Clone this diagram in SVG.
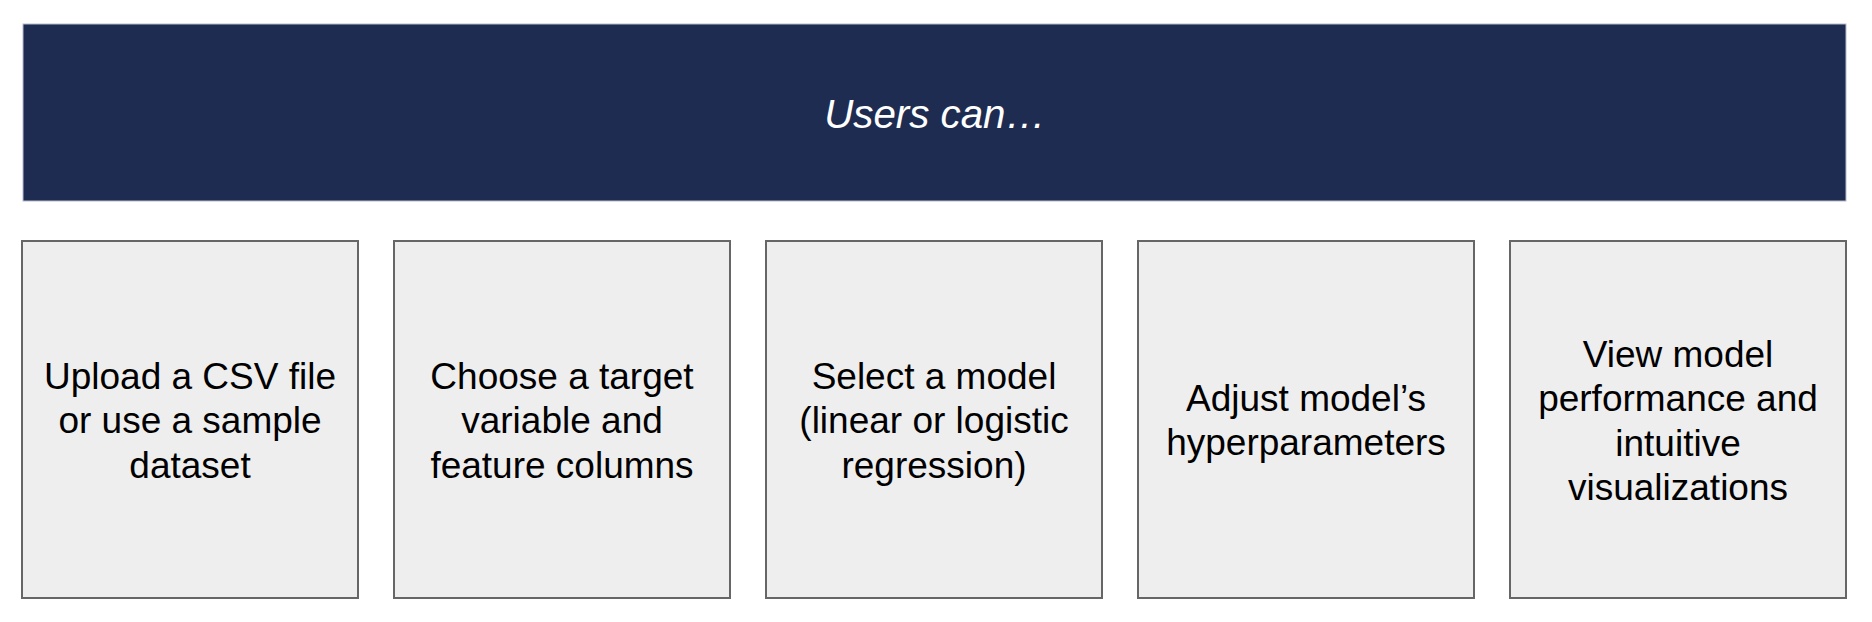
<svg xmlns="http://www.w3.org/2000/svg" width="1872" height="622" viewBox="0 0 1872 622">
<style>
.box{fill:#eeeeee;stroke:#666666;stroke-width:2}
.t{font-family:"Liberation Sans",Arial,sans-serif;font-size:37px;fill:#000000;text-anchor:middle}
.h{font-family:"Liberation Sans",Arial,sans-serif;font-size:40.3px;font-style:italic;fill:#ffffff;text-anchor:middle}
</style>
<rect width="1872" height="622" fill="#ffffff"/>
<g id="banner">
<rect x="23" y="24" width="1823" height="177" fill="#1f2c51" stroke="#b8bccb" stroke-width="1"/>
<text class="h" x="935" y="127.5">Users can…</text>
</g>
<g id="connectors"></g>
<g id="node1">
<rect class="box" x="22" y="241" width="336" height="357"/>
<text class="t" x="190" y="388.5">Upload a CSV file</text>
<text class="t" x="190" y="433">or use a sample</text>
<text class="t" x="190" y="477.5">dataset</text>
</g>
<g id="node2">
<rect class="box" x="394" y="241" width="336" height="357"/>
<text class="t" x="562" y="388.5">Choose a target</text>
<text class="t" x="562" y="433">variable and</text>
<text class="t" x="562" y="477.5">feature columns</text>
</g>
<g id="node3">
<rect class="box" x="766" y="241" width="336" height="357"/>
<text class="t" x="934" y="388.5">Select a model</text>
<text class="t" x="934" y="433">(linear or logistic</text>
<text class="t" x="934" y="477.5">regression)</text>
</g>
<g id="node4">
<rect class="box" x="1138" y="241" width="336" height="357"/>
<text class="t" x="1306" y="410.5">Adjust model’s</text>
<text class="t" x="1306" y="455">hyperparameters</text>
</g>
<g id="node5">
<rect class="box" x="1510" y="241" width="336" height="357"/>
<text class="t" x="1678" y="366.5">View model</text>
<text class="t" x="1678" y="411">performance and</text>
<text class="t" x="1678" y="455.5">intuitive</text>
<text class="t" x="1678" y="500">visualizations</text>
</g>
</svg>
